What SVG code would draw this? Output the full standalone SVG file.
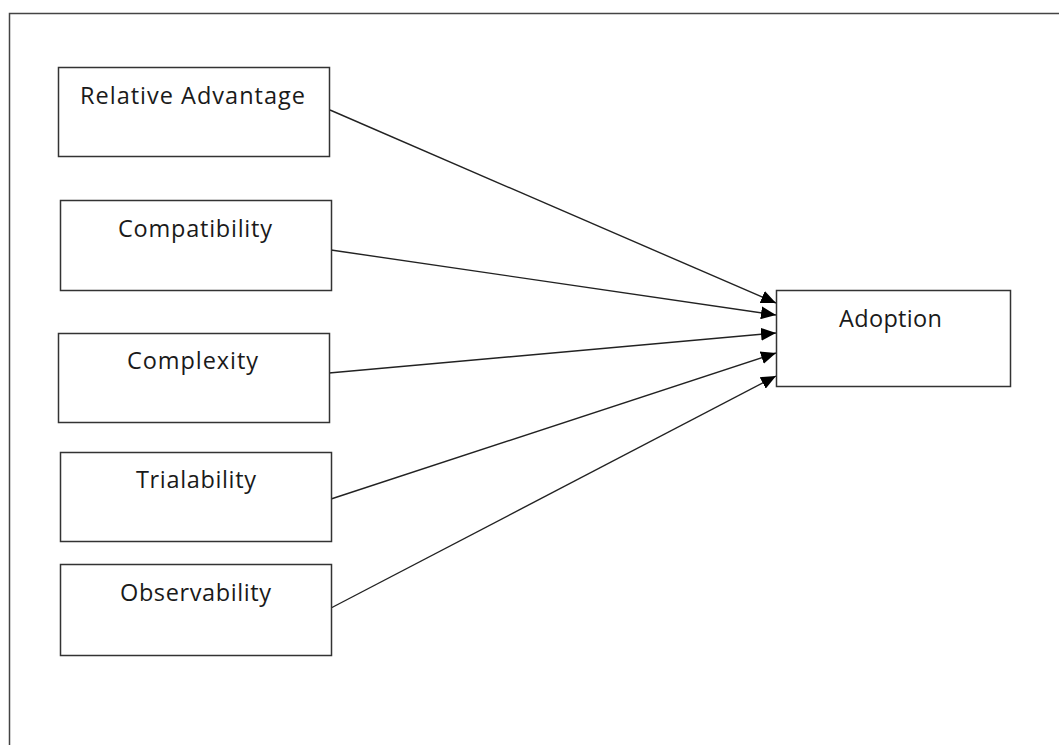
<svg xmlns="http://www.w3.org/2000/svg" width="1059" height="745" viewBox="0 0 1059 745">
<defs>
<style>
.box{fill:#fff;stroke:#333;stroke-width:1.5}
.lbl{font-family:"Open Sans","Liberation Sans",sans-serif;font-size:23.5px;fill:#1a1a1a;text-anchor:middle}
.con{stroke:#222;stroke-width:1.4;fill:none;marker-end:url(#ah)}
</style>
<marker id="ah" viewBox="0 0 15 13" refX="15" refY="6.5" markerWidth="15" markerHeight="13" markerUnits="userSpaceOnUse" orient="auto">
<path d="M0,0 L15,6.5 L0,13 Z" fill="#000"/>
</marker>
</defs>
<rect x="0" y="0" width="1059" height="745" fill="#fff"/>
<rect x="9.5" y="13.5" width="1060" height="760" fill="none" stroke="#444" stroke-width="1.5"/>
<g id="connectors">
<line class="con" x1="330" y1="110" x2="776" y2="303"/>
<line class="con" x1="331" y1="250" x2="776" y2="315"/>
<line class="con" x1="329" y1="373" x2="776" y2="333"/>
<line class="con" x1="331" y1="499" x2="776" y2="353"/>
<line class="con" x1="331" y1="608" x2="776" y2="376"/>
</g>
<g id="relative-advantage">
<rect class="box" x="58.5" y="67.5" width="271" height="89"/>
<text class="lbl" x="192.5" y="104" textLength="225" lengthAdjust="spacing">Relative Advantage</text>
</g>
<g id="compatibility">
<rect class="box" x="60.5" y="200.5" width="271" height="90"/>
<text class="lbl" x="195" y="237" textLength="154" lengthAdjust="spacing">Compatibility</text>
</g>
<g id="complexity">
<rect class="box" x="58.5" y="333.5" width="271" height="89"/>
<text class="lbl" x="192.5" y="369" textLength="131" lengthAdjust="spacing">Complexity</text>
</g>
<g id="trialability">
<rect class="box" x="60.5" y="452.5" width="271" height="89"/>
<text class="lbl" x="196" y="488" textLength="120" lengthAdjust="spacing">Trialability</text>
</g>
<g id="observability">
<rect class="box" x="60.5" y="564.5" width="271" height="91"/>
<text class="lbl" x="195.5" y="601" textLength="151" lengthAdjust="spacing">Observability</text>
</g>
<g id="adoption">
<rect class="box" x="776.5" y="290.5" width="234" height="96"/>
<text class="lbl" x="890.5" y="327" textLength="103" lengthAdjust="spacing">Adoption</text>
</g>
</svg>
